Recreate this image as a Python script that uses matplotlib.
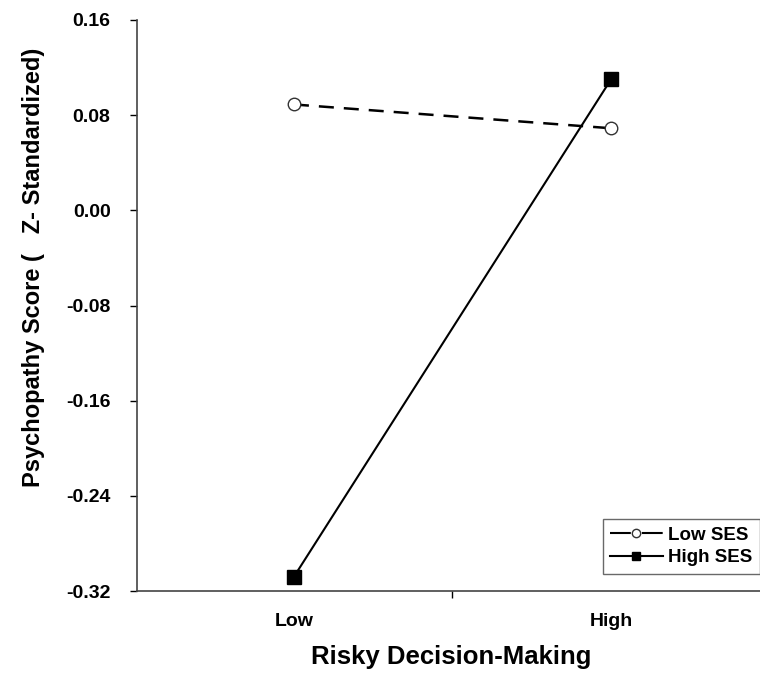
import numpy as np
import matplotlib
matplotlib.use("Agg")
from matplotlib import pyplot as plt
from matplotlib.lines import Line2D

plt.rcParams['font.family'] = ['Liberation Sans', 'DejaVu Sans']
plt.rcParams['font.weight'] = 'bold'

categories = ['Low', 'High']
low_ses = [0.089, 0.069]
high_ses = [-0.308, 0.110]
yticks = [-0.32, -0.24, -0.16, -0.08, 0.00, 0.08, 0.16]

fig = plt.figure(figsize=(7.6, 6.81), dpi=100)
ax = fig.add_axes([137/760, 90/681, 623/760, 571/681])

x = np.arange(len(categories))
ax.plot(x, low_ses, color='black', lw=1.8, dashes=(6, 4), marker='o', ms=9,
        mfc='white', mec='#333333', mew=1.0)
ax.plot(x, high_ses, color='black', lw=1.5, marker='s', ms=9.5,
        mfc='black', mec='black')

ax.set_xlim(-0.495, 1.47)
ax.set_ylim(-0.32, 0.16)
ax.set_yticks(yticks)
ax.set_yticklabels(['%.2f' % v for v in yticks], fontsize=14, fontweight='bold')
ax.tick_params(axis='y', direction='out', length=5, width=1, pad=14)

ax.set_xticks(x)
ax.set_xticklabels(categories, fontsize=14, fontweight='bold')
ax.tick_params(axis='x', which='major', length=0, pad=16)
ax.set_xticks([0.5], minor=True)
ax.tick_params(axis='x', which='minor', direction='out', length=5, width=1)

for s in ['top', 'right']:
    ax.spines[s].set_visible(False)
for s in ['left', 'bottom']:
    ax.spines[s].set_color('#444444')
    ax.spines[s].set_linewidth(1.2)

ax.set_ylabel('Psychopathy Score (   Z- Standardized)', fontsize=17, fontweight='bold')
ax.yaxis.set_label_coords(-0.148, 0.566)
ax.set_xlabel('Risky Decision-Making', fontsize=18.5, fontweight='bold')
ax.xaxis.set_label_coords(0.505, -0.095)

# legend proxies: short dash either side of the marker
h_low = Line2D([], [], color='black', lw=1.5, dashes=(10, 5.3), marker='o', ms=6,
               mfc='white', mec='#333333', mew=1.0)
h_high = Line2D([], [], color='black', lw=1.5, marker='s', ms=6,
                mfc='black', mec='black')
leg = ax.legend([h_low, h_high], ['Low SES', 'High SES'],
                loc='lower right', bbox_to_anchor=(1.0, 0.03), fontsize=13.5,
                frameon=True, fancybox=False, edgecolor='#444444',
                handlelength=2.8, handletextpad=0.3, borderpad=0.4,
                labelspacing=0.3, borderaxespad=0)
leg.get_frame().set_linewidth(1.0)
for t in leg.get_texts():
    t.set_fontweight('bold')

fig.savefig('out.png', dpi=100)
